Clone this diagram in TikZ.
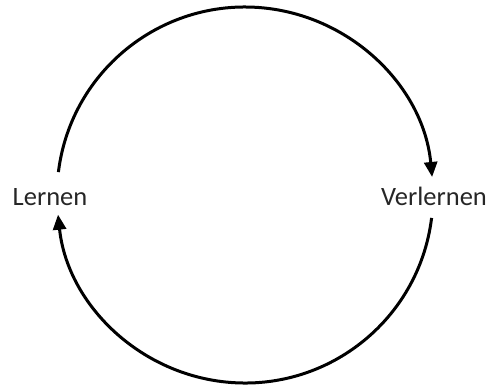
\documentclass[tikz,border=0pt]{standalone}
\usepackage{fontspec}
\setmainfont{Carlito}
\usetikzlibrary{arrows.meta}
\begin{document}
\begin{tikzpicture}[x=1pt,y=1pt,
  lbl/.style={inner sep=0pt, anchor=base, font=\fontsize{26.5}{30}\selectfont, text=black!85},
  cyc/.style={line width=3pt, -{Triangle[length=15pt,width=13pt]}}]
\useasboundingbox (0,0) rectangle (492,-386);
\coordinate (c) at (245,-195);
\node[lbl] (L) at (50,-205) {Lernen};
\node[lbl] (V) at (434,-205) {Verlernen};
\draw[cyc] ([shift={(173:188)}]c) arc[start angle=173, end angle=5.5, radius=188];
\draw[cyc] ([shift={(-7:188)}]c) arc[start angle=-7, end angle=-174, radius=188];
\end{tikzpicture}
\end{document}
